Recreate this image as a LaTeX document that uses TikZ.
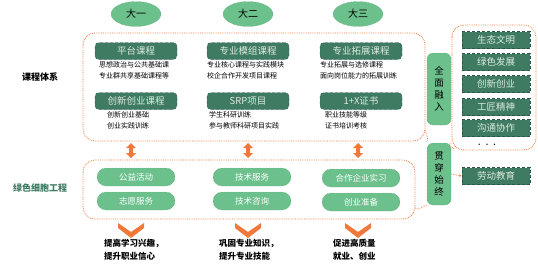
\documentclass[tikz,border=0pt]{standalone}
\usepackage{fontspec}
\newfontfamily\cjk{Noto Sans CJK SC}
\usetikzlibrary{shapes.geometric,arrows.meta}
\definecolor{dkg}{HTML}{3F7B63}
\definecolor{ltg}{HTML}{6CC08C}
\definecolor{org}{HTML}{F0783A}
\definecolor{txg}{HTML}{DDEBDD}
\begin{document}
\begin{tikzpicture}[x=1pt,y=-1pt,
  every node/.style={font=\cjk},
  yearell/.style={ellipse,fill=ltg,draw=ltg!80!black,densely dotted,minimum width=50pt,minimum height=25pt,inner sep=0pt,font=\cjk\fontsize{10}{12}\selectfont,text=black},
  course/.style={rounded corners=4pt,fill=dkg,draw=dkg!70!black,densely dashed,minimum width=82pt,minimum height=17pt,inner sep=0pt,font=\cjk\fontsize{9.5}{11}\selectfont,text=txg},
  small/.style={font=\cjk\fontsize{7}{11.5}\selectfont,align=left,text=black,inner sep=0pt},
  pill/.style={rounded corners=9pt,fill=ltg,draw=ltg!80!black,densely dotted,minimum width=78pt,minimum height=18pt,inner sep=0pt,font=\cjk\fontsize{8.5}{10}\selectfont,text=white},
  valbox/.style={fill=dkg,draw=dkg!70!black,densely dashed,minimum width=68pt,minimum height=17pt,inner sep=0pt,font=\cjk\fontsize{9.5}{11}\selectfont,text=txg},
  vbox/.style={rounded corners=6pt,fill=ltg,draw=ltg!70!black,densely dotted,minimum width=24pt,inner sep=2pt,align=center,font=\cjk\fontsize{9.5}{12}\selectfont,text=black},
  frame/.style={draw=org,densely dotted,line width=0.8pt,rounded corners=12pt},
  side/.style={font=\cjk\bfseries\fontsize{9}{11}\selectfont},
  result/.style={font=\cjk\bfseries\fontsize{8.5}{13}\selectfont,align=left,text=black,inner sep=0pt},
  conn/.style={draw=org,densely dotted,line width=0.7pt}]
\useasboundingbox (0,0) rectangle (538,273);

% year ellipses
\node[yearell] (y1) at (136,14) {大一};
\node[yearell] (y2) at (248,14) {大二};
\node[yearell] (y3) at (358,14) {大三};

% course frame
\draw[frame] (83,33) rectangle (425,141);
\node[side] (kc) at (40,77) {课程体系};

% course boxes
\node[course] (c1) at (136,51) {平台课程};
\node[course] (c2) at (248,51) {专业模组课程};
\node[course] (c3) at (361,51) {专业拓展课程};
\node[course] (c4) at (136,101) {创新创业课程};
\node[course] (c5) at (248,101) {SRP项目};
\node[course] (c6) at (361,101) {1+X证书};

\node[small,anchor=north west] (t1) at (99,61) {思想政治与公共基础课\\专业群共享基础课程等};
\node[small,anchor=north west] (t2) at (207,61) {专业核心课程与实践模块\\校企合作开发项目课程};
\node[small,anchor=north west] (t3) at (320,61) {专业拓展与选修课程\\面向岗位能力的拓展训练};
\node[small,anchor=north west] (t4) at (107,111) {创新创业基础\\创业实践训练};
\node[small,anchor=north west] (t5) at (209,111) {学生科研训练\\参与教师科研项目实践};
\node[small,anchor=north west] (t6) at (325,111) {职业技能等级\\证书培训考核};

% right values frame
\draw[frame] (452,25) rectangle (536,150);
\node[valbox] (v1) at (496,40) {生态文明};
\node[valbox] (v2) at (496,62) {绿色发展};
\node[valbox] (v3) at (496,84) {创新创业};
\node[valbox] (v4) at (496,107) {工匠精神};
\node[valbox] (v5) at (496,128) {沟通协作};
\node[font=\bfseries\fontsize{9}{9}\selectfont] (dots) at (487,145) {. . .};

% 全面融入
\node[vbox,minimum height=72pt] (qm) at (439,89) {全\\面\\融\\入};

% double arrows
\foreach \x/\n in {131/a1,248/a2,358/a3}{
  \fill[org] (\x,143) -- (\x+5,148) -- (\x+2,148) -- (\x+2,153) -- (\x+5,153) -- (\x,158) -- (\x-5,153) -- (\x-2,153) -- (\x-2,148) -- (\x-5,148) -- cycle;
}

% activity frame
\draw[frame] (83,160) rectangle (415,219);
\node[side,text=dkg] (lx) at (40,188) {绿色细胞工程};

\node[pill] (p1) at (136,177) {公益活动};
\node[pill] (p2) at (136,201) {志愿服务};
\node[pill] (p3) at (252,177) {技术服务};
\node[pill] (p4) at (252,201) {技术咨询};
\node[pill] (p5) at (361,178) {合作企业实习};
\node[pill] (p6) at (361,202) {创业准备};

% 贯穿始终
\node[vbox,minimum height=62pt] (gc) at (439,174) {贯\\穿\\始\\终};
\node[valbox] (ld) at (496,176) {劳动教育};

% connectors
\draw[conn] (425,130) .. controls (428,138) .. (gc.north west);
\draw[conn] (415,208) .. controls (418,212) and (424,205) .. (gc.south west);
\draw[conn] (gc.north east) .. controls (448,145) .. (455,149);
\draw[conn,-{Stealth[length=3pt]}] (gc.east) -- (ld.west);

% chevrons
\foreach \x in {131,248,358}{
  \fill[org] (\x-13,223) -- (\x,232) -- (\x+13,223) -- (\x+13,228) -- (\x,238) -- (\x-13,228) -- cycle;
}

% results
\node[result,anchor=north west] (r1) at (104,239) {提高学习兴趣，\\提升职业信心};
\node[result,anchor=north west] (r2) at (219,239) {巩固专业知识，\\提升专业技能};
\node[result,anchor=north west] (r3) at (333,239) {促进高质量\\就业、创业};
\end{tikzpicture}
\end{document}
